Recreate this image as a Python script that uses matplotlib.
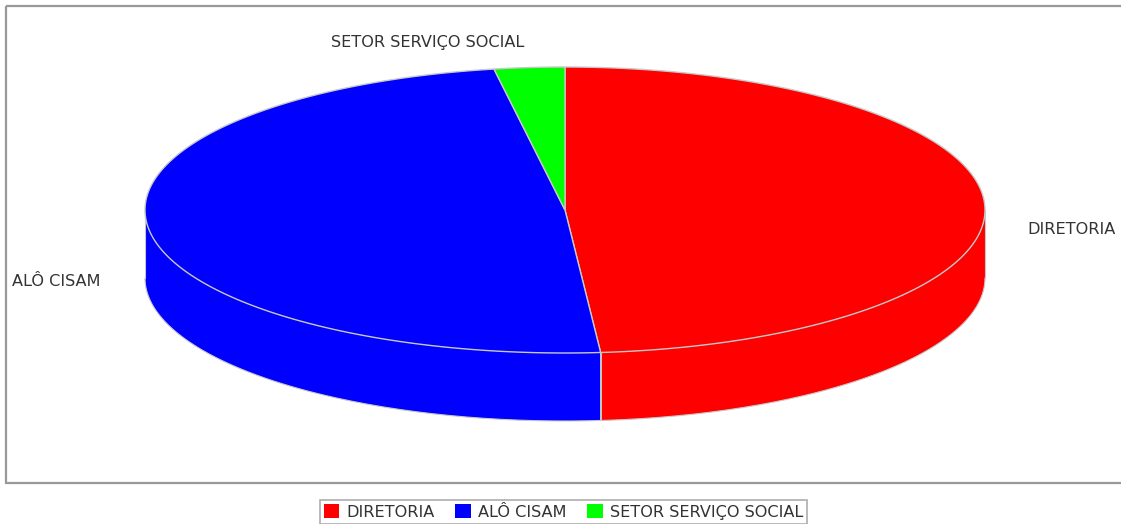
import numpy as np
import matplotlib.pyplot as plt
from matplotlib.patches import Polygon, Rectangle, Patch

# data
labels = ['DIRETORIA', 'ALÔ CISAM', 'SETOR SERVIÇO SOCIAL']
values = [18, 18, 1]
colors = ['#ff0000', '#0000ff', '#00ff00']

# geometry of the 3d pie (pixels)
cx, cy = 565, 210
rx, ry = 420, 143
depth = 68

fig = plt.figure(figsize=(11.21, 5.24), dpi=100)
ax = fig.add_axes([0, 0, 1, 1])
ax.set_xlim(0, 1121)
ax.set_ylim(524, 0)
ax.axis('off')

# plot area border
ax.add_patch(Rectangle((6, 5.5), 1130, 477, fill=False, ec='#999999', lw=1.6))

def pt(t, dy=0):
    return cx + rx * np.cos(np.radians(t)), cy - ry * np.sin(np.radians(t)) + dy

total = sum(values)
angles = []
start = 90.0
for v in values:
    ext = 360.0 * v / total
    angles.append((start - ext, start))   # clockwise
    start -= ext

edge = '#c8c8c8'

# side walls (front half only)
for (a0, a1), c in zip(angles, colors):
    lo, hi = a0 % 360, (a0 % 360) + (a1 - a0)
    for off in (0, 360, -360):
        s, e = max(lo + off, 180), min(hi + off, 360)
        if e > s:
            t = np.linspace(s, e, 200)
            x, y = pt(t)
            verts = np.vstack([np.column_stack([x, y]),
                               np.column_stack([x[::-1], y[::-1] + depth])])
            ax.add_patch(Polygon(verts, closed=True, fc=c, ec='none', zorder=2))

# seam lines at slice boundaries on the front
for a0, a1 in angles:
    for tt in (a0, a1):
        m = tt % 360
        if 180 < m < 360:
            x, y = pt(m)
            ax.plot([x, x], [y, y + depth], color=edge, lw=1.2, zorder=3)
# outer outline of the side
t = np.linspace(180, 360, 300)
x, y = pt(t)
ax.plot(x, y + depth, color=edge, lw=0.8, zorder=3)
ax.plot([cx - rx, cx - rx], [cy, cy + depth], color=edge, lw=0.8, zorder=3)
ax.plot([cx + rx, cx + rx], [cy, cy + depth], color=edge, lw=0.8, zorder=3)

# top face
for (a0, a1), c in zip(angles, colors):
    t = np.linspace(a0, a1, 300)
    x, y = pt(t)
    verts = np.vstack([[cx, cy], np.column_stack([x, y])])
    ax.add_patch(Polygon(verts, closed=True, fc=c, ec=edge, lw=1.0, zorder=4))

# labels
font = dict(family='DejaVu Sans', fontsize=11.6, color='#333333')
ax.text(1027, 229, labels[0], ha='left', va='center', **font)
ax.text(12, 281, labels[1], ha='left', va='center', **font)
ax.text(428, 43, labels[2], ha='center', va='center', **font)

# legend
handles = [Patch(fc=c, ec='none', label=l) for c, l in zip(colors, labels)]
leg = ax.legend(handles=handles, loc='center', bbox_to_anchor=(563.5 / 1121, 1 - 512 / 524),
                ncol=3, frameon=True, fancybox=False, edgecolor='#999999',
                prop={'family': 'DejaVu Sans', 'size': 11.6}, handlelength=0.95, handleheight=0.95,
                handletextpad=0.45, columnspacing=1.3, borderpad=0.25, borderaxespad=0)
leg.get_frame().set_linewidth(1.2)
for txt in leg.get_texts():
    txt.set_color('#333333')

fig.savefig('out.png', dpi=100)
